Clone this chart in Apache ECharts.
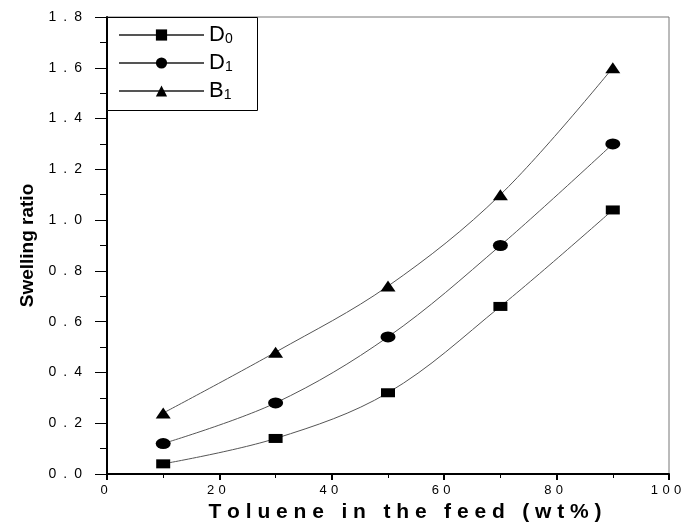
<!DOCTYPE html>
<html>
<head>
<meta charset="utf-8">
<script src="https://cdn.jsdelivr.net/npm/echarts@6/dist/echarts.min.js"></script>
<style>html,body{margin:0;padding:0;background:#fff}#c{width:683px;height:523px}</style>
</head>
<body>
<div id="c"></div>
<script>
var toluene = [10, 30, 50, 70, 90];
var D0 = [0.04, 0.14, 0.32, 0.66, 1.04];
var D1 = [0.12, 0.28, 0.54, 0.90, 1.30];
var B1 = [0.24, 0.48, 0.74, 1.10, 1.60];
var seriesNames = ['D0', 'D1', 'B1'];
var xTitle = 'Toluene in the feed (wt%)';
var yTitle = 'Swelling ratio';

function spaced(s, sep) { return String(s).split('').join(sep || ' '); }
function pairs(ys) { return toluene.map(function (x, i) { return [x, ys[i]]; }); }

var chart = echarts.init(document.getElementById('c'));
var font = 'Liberation Sans, Arial, sans-serif';
function mk(name, data, symbol, size) {
  return {
    name: name, type: 'line', data: pairs(data), smooth: 0.35,
    symbol: symbol, symbolSize: size,
    lineStyle: { color: '#555', width: 1 },
    itemStyle: { color: '#000' },
    emphasis: { disabled: true }
  };
}
chart.setOption({
  animation: false,
  grid: { left: 107, right: 14, top: 17, bottom: 49, outerBoundsMode: 'none', containLabel: false, show: true, borderColor: '#777', borderWidth: 1, backgroundColor: 'transparent' },
  graphic: [{
    type: 'rect', z: 5, silent: true,
    shape: { x: 107.5, y: 17.5, width: 150, height: 93 },
    style: { fill: '#fff', stroke: '#000', lineWidth: 1 }
  }],
  legend: {
    left: 107, top: 10, orient: 'vertical', z: 10,
    padding: [0, 25, 2, 11],
    itemWidth: 85, itemHeight: 14, itemGap: -8,
    textStyle: {
      fontFamily: font, color: '#000',
      rich: {
        m: { fontSize: 22, lineHeight: 22, fontFamily: font, color: '#000', verticalAlign: 'middle' },
        s: { fontSize: 14, lineHeight: 14, fontFamily: font, color: '#000', verticalAlign: 'bottom', padding: [22, 0, 0, 0] }
      }
    },
    formatter: function (n) { return '{m|' + n.charAt(0) + '}{s|' + n.slice(1) + '}'; },
    data: seriesNames
  },
  xAxis: {
    type: 'value', min: 0, max: 100, interval: 20,
    name: spaced(xTitle), nameLocation: 'middle', nameGap: 26,
    nameTextStyle: { fontFamily: font, fontSize: 21, fontWeight: 'bold', color: '#000', padding: [0, 0, 0, 34] },
    axisLine: { lineStyle: { color: '#000', width: 2 } },
    axisTick: { show: true, length: 6, lineStyle: { color: '#000', width: 2 } },
    minorTick: { show: true, splitNumber: 2, length: 4, lineStyle: { color: '#000', width: 1 } },
    splitLine: { show: false },
    axisLabel: { fontFamily: font, fontSize: 13, color: '#000', margin: 10, padding: [0, 6, 0, 0], formatter: function (v) { return spaced(v, '\u2004'); } }
  },
  yAxis: {
    type: 'value', min: 0, max: 1.8, interval: 0.2,
    name: yTitle, nameLocation: 'middle', nameGap: 70,
    nameTextStyle: { fontFamily: font, fontSize: 19, fontWeight: 'bold', color: '#000' },
    axisLine: { lineStyle: { color: '#000', width: 2 } },
    axisTick: { show: true, length: 12, lineStyle: { color: '#000', width: 1 } },
    minorTick: { show: true, splitNumber: 2, length: 7, lineStyle: { color: '#000', width: 1 } },
    splitLine: { show: false },
    axisLabel: { fontFamily: font, fontSize: 14, color: '#000', margin: 25, formatter: function (v) { return spaced(v.toFixed(1), '\u2002'); } }
  },
  series: [
    mk(seriesNames[0], D0, 'rect', [14, 9]),
    mk(seriesNames[1], D1, 'circle', [15, 11]),
    mk(seriesNames[2], B1, 'triangle', [15, 11])
  ]
});
</script>
</body>
</html>
